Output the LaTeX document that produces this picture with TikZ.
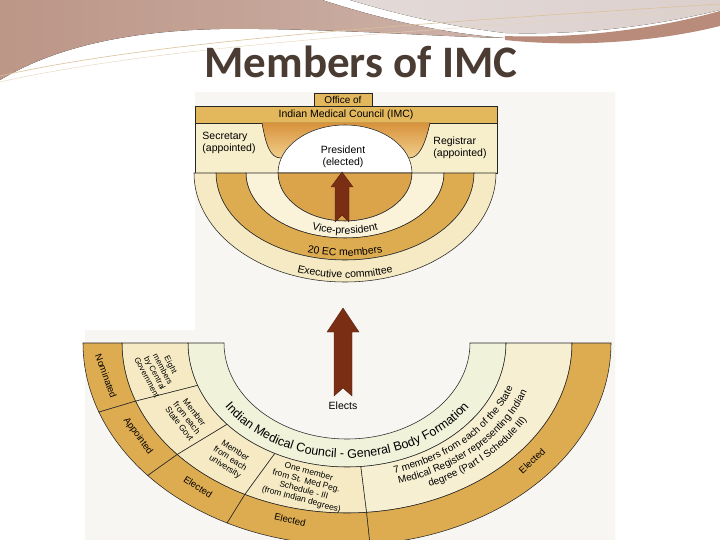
\documentclass[tikz,border=0pt]{standalone}
\usepackage{fontspec}
\setmainfont{Liberation Sans}
\newfontfamily\titlefont{Carlito}
\usetikzlibrary{decorations.text}
\definecolor{gold}{HTML}{DEAC50}
\definecolor{innergold}{HTML}{DBA34A}
\definecolor{bandgold}{HTML}{E3B75C}
\definecolor{cream}{HTML}{F5EAC3}
\definecolor{panelcream}{HTML}{F7EECB}
\definecolor{lightcream}{HTML}{FAF3DA}
\definecolor{palegreen}{HTML}{F1F2DA}
\definecolor{sevencream}{HTML}{F6EFD2}
\definecolor{arrowbrown}{HTML}{7A2E14}
\definecolor{titlecol}{HTML}{4A3C33}
\definecolor{swooshA}{HTML}{BC9687}
\definecolor{swooshAl}{HTML}{CDB2A8}
\definecolor{swooshB}{HTML}{DCD0CD}
\definecolor{swooshC}{HTML}{B88B7A}
\definecolor{swooshline}{HTML}{D9C29A}
\definecolor{bowltop}{HTML}{D8923C}
\definecolor{bowlbot}{HTML}{F0CF8C}
\definecolor{scanbg}{HTML}{F7F6F2}
\newcommand\annsec[7]{\path[#1] (#2:#6 and #7) arc[start angle=#2,end angle=#3,x radius=#6,y radius=#7] -- (#3:#4 and #5) arc[start angle=#3,end angle=#2,x radius=#4,y radius=#5] -- cycle;}
\newcommand\ringfont{\fontsize{12.5}{12.5}\selectfont}
\newcommand\sevenfont{\fontsize{10}{10}\selectfont}
\newcommand\topringfont{\fontsize{10.5}{10.5}\selectfont}
\begin{document}
\begin{tikzpicture}[x=1pt,y=-1pt,
  lab/.style={inner sep=0pt,align=center,font=\fontsize{8.5}{9.5}\selectfont},
  toplab/.style={inner sep=0pt,align=center,font=\fontsize{10.5}{12}\selectfont},
  ol/.style={draw=black!85,line width=0.55pt},
  blockarrow/.style={fill=arrowbrown,draw=arrowbrown!70!black,line width=0.4pt}]
\clip (0,0) rectangle (720,540);
\fill[white] (0,0) rectangle (720,540);
% decorative swoosh
\fill[left color=swooshA,right color=swooshAl] (0,0) -- (322,0) .. controls (390,22) and (450,34) .. (505,38) .. controls (420,36) and (330,28) .. (220,29) .. controls (120,31) and (50,50) .. (0,80) -- cycle;
\fill[left color=swooshB!80!white,right color=swooshB] (350,0) -- (720,0) -- (720,10) .. controls (650,27) and (580,35) .. (505,33) .. controls (440,25) and (390,12) .. (350,0) -- cycle;
\fill[swooshC] (505,36) .. controls (580,39) and (660,28) .. (720,11) -- (720,26) .. controls (660,41) and (580,48) .. (505,40) -- cycle;
\draw[swooshline,line width=0.6pt] (0,76) .. controls (150,42) and (400,24) .. (720,4);
\draw[swooshline!70!white,line width=0.4pt] (0,82) .. controls (160,46) and (420,30) .. (720,10);
% title
\node[anchor=base,font={\titlefont\bfseries\fontsize{45}{45}\selectfont},text=titlecol] (title) at (361,78) {Members of IMC};
% scan background
\fill[scanbg] (195,92) -- (615,92) -- (615,540) -- (85,540) -- (85,330) -- (195,330) -- cycle;

% ===== top figure =====
\path[fill=panelcream,ol] (195,123) rectangle (497,173);
\path[fill=bandgold,ol] (195,106) rectangle (497,123);
\path[fill=bandgold,ol] (314,93) rectangle (372,106);
\fill[top color=bowltop,bottom color=bowlbot] (262,123) .. controls (266,145) and (270,158) .. (281,158) -- (409,158) .. controls (419,158) and (425,145) .. (430,123) -- cycle;
\draw[ol] (262,123) .. controls (266,145) and (270,158) .. (281,158);
\draw[ol] (430,123) .. controls (425,145) and (419,158) .. (409,158);
\path[fill=white,ol] (278,173) arc[start angle=180,end angle=360,x radius=67,y radius=48] -- cycle;
\begin{scope}[shift={(345,173)}]
  \path[fill=innergold,ol] (180:67 and 48) arc[start angle=180,end angle=0,x radius=67,y radius=48] -- cycle;
  \annsec{fill=lightcream,ol}{180}{0}{67}{48}{99}{65}
  \annsec{fill=gold,ol}{180}{0}{99}{65}{129}{87}
  \annsec{fill=cream,ol}{180}{0}{129}{87}{151}{109}
  \path[decorate,decoration={text along path,text align=center,text={|\topringfont|Vice-president}}] (170:91 and 61) arc[start angle=170,end angle=10,x radius=91,y radius=61];
  \path[decorate,decoration={text along path,text align=center,text={|\topringfont|20 EC members}}] (170:124 and 83) arc[start angle=170,end angle=10,x radius=124,y radius=83];
  \path[decorate,decoration={text along path,text align=center,text={|\topringfont|Executive committee}}] (170:147 and 105) arc[start angle=170,end angle=10,x radius=147,y radius=105];
\end{scope}
\path[blockarrow] (342,172) -- (353,187) -- (349,187) -- (349,222) -- (342,215) -- (335,222) -- (335,187) -- (331,187) -- cycle;
\node[toplab,font=\fontsize{10}{11}\selectfont] (office) at (343,100) {Office of};
\node[toplab] (imc) at (346,115) {Indian Medical Council (IMC)};
\node[toplab,align=left] (secretary) at (229,143) {Secretary\\(appointed)};
\node[toplab,align=left] (registrar) at (460,148) {Registrar\\(appointed)};
\node[toplab] (president) at (343,157) {President\\(elected)};

% ===== bottom figure =====
\begin{scope}[shift={(347,343)}]
  \annsec{fill=palegreen,ol}{180}{0}{123}{96}{159}{124}
  \annsec{fill=cream,ol}{180}{160}{159}{124}{225}{170}
  \annsec{fill=cream,ol}{160}{139}{159}{124}{225}{170}
  \annsec{fill=cream,ol}{139}{117}{159}{124}{225}{170}
  \annsec{fill=cream,ol}{117}{85}{159}{124}{225}{170}
  \annsec{fill=sevencream,ol}{85}{0}{159}{124}{225}{170}
  \annsec{fill=gold,ol}{180}{160}{225}{170}{264}{202}
  \annsec{fill=gold,ol}{160}{139}{225}{170}{264}{202}
  \annsec{fill=gold,ol}{139}{117}{225}{170}{264}{202}
  \annsec{fill=gold,ol}{117}{85}{225}{170}{264}{202}
  \annsec{fill=gold,ol}{85}{0}{225}{170}{264}{202}
  \path[decorate,decoration={text along path,text align=center,text={|\ringfont|Indian Medical Council - General Body Formation}}] (176:147 and 115) arc[start angle=176,end angle=4,x radius=147,y radius=115];
  \path[decorate,decoration={text along path,text align=center,text={|\sevenfont|7 members from each of the State}}] (88:176 and 135) arc[start angle=88,end angle=2,x radius=176,y radius=135];
  \path[decorate,decoration={text along path,text align=center,text={|\sevenfont|Medical Register representing Indian}}] (88:191 and 146) arc[start angle=88,end angle=2,x radius=191,y radius=146];
  \path[decorate,decoration={text along path,text align=center,text={|\sevenfont|degree (Part I Schedule III)}}] (88:206 and 157) arc[start angle=88,end angle=2,x radius=206,y radius=157];
\end{scope}
\node[lab,font=\fontsize{9.5}{10}\selectfont,rotate=-70] (nominated) at (106,376) {Nominated};
\node[lab,font=\fontsize{8}{9}\selectfont,rotate=-62] (central) at (159,371) {Eight\\members\\by Central\\Government};
\node[lab,rotate=-52] (stategovt) at (187,418) {Member\\from each\\State Govt};
\node[lab,font=\fontsize{9.5}{10}\selectfont,rotate=-54] (appointed) at (138,436) {Appointed};
\node[lab,rotate=-33] (university) at (230,459) {Member\\from each\\university};
\node[lab,rotate=-15] (onemember) at (305,486) {One member\\from St. Med Peg.\\Schedule - III\\(from Indian degrees)};
\node[lab,font=\fontsize{9.5}{10}\selectfont,rotate=-33] (elected1) at (198,487) {Elected};
\node[lab,font=\fontsize{9.5}{10}\selectfont,rotate=-13] (elected2) at (290,520) {Elected};
\node[lab,font=\fontsize{9.5}{10}\selectfont,rotate=43] (elected3) at (532,461) {Elected};
\path[blockarrow] (343,308) -- (359,332) -- (352,332) -- (352,396) -- (343,388) -- (334,396) -- (334,332) -- (327,332) -- cycle;
\node[lab,font=\fontsize{10.5}{11}\selectfont] (elects) at (343,406) {Elects};
\end{tikzpicture}
\end{document}
